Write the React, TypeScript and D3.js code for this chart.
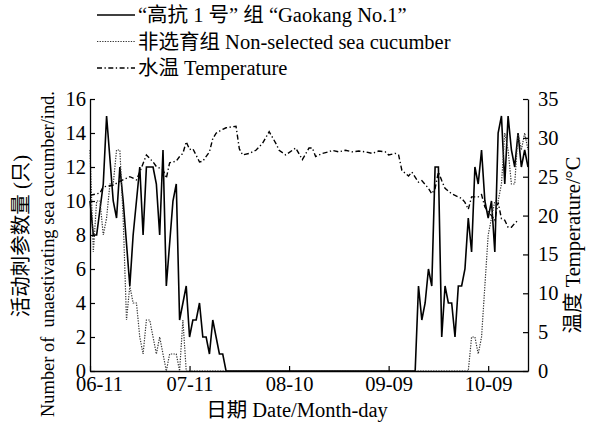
import { useRef, useEffect } from "react";
import * as d3 from "d3";

// day offsets from 06-11 and counts
const gaokangDays = [
  0, 1, 2, 4, 5, 7, 8, 9, 10, 12, 13, 15, 16, 17, 19, 20, 21, 22, 23, 25, 26, 27, 29, 30, 31, 32, 33, 34,
  35, 36, 37, 38, 39, 40, 41,
  98, 99, 100, 101, 102, 103, 104, 105, 106, 107, 108, 109, 110, 111, 112, 113, 114, 115, 116, 117, 118,
  119, 120, 121, 122, 123, 124, 125, 126, 127, 128, 129, 130, 131, 132,
];
const gaokangCounts = [
  10, 8, 8, 11, 15, 10, 9, 12, 10, 5, 8, 12, 8, 12, 12, 11, 8, 13, 5, 10, 11, 3, 5, 2, 3, 3, 4, 2,
  2, 1, 3, 2, 1, 1, 0,
  0, 5, 3, 4, 6, 5, 12, 12, 2, 5, 4, 4, 2, 5, 5, 6, 9, 7, 12, 11, 13,
  10, 9, 10, 7, 14, 15, 11, 15, 13, 12, 14, 12, 13, 12,
];

const controlDays = [
  0, 1, 2, 3, 4, 5, 6, 7, 8, 9, 10, 11, 12, 13, 14, 15, 16, 17, 18, 19, 20, 21, 22, 23, 24, 25, 26, 27, 28, 29,
  114, 115, 116, 117, 118, 119, 120, 121, 122, 123, 124, 125, 126, 127, 128, 129, 130, 131, 132,
];
const controlCounts = [
  13, 7, 10, 10, 8, 9, 11, 11, 13, 13, 9, 3, 5, 4, 4, 2, 1, 3, 3, 2, 1, 2, 1, 0, 1, 1, 1, 0, 3, 0,
  0, 2, 2, 1, 2, 5, 8, 9, 10, 10, 11, 14, 13, 11, 11, 14, 13, 14, 13,
];

const tempDays = [
  0, 3, 4, 7, 9, 12, 14, 15, 17, 19, 20, 22, 23, 24, 26, 27, 28, 29, 30, 31, 33, 34, 36, 37, 38, 40, 41,
  44, 45, 46, 48, 50, 52, 54, 56, 57, 59, 61, 62, 64, 66, 67, 68, 70, 72, 73, 75, 77, 79, 81, 83, 85, 87,
  89, 90, 92, 93, 94, 96, 97, 99, 100, 102, 103, 104, 105, 106, 107, 109, 110, 112, 113, 114, 115, 117,
  118, 119, 120, 121, 122, 123, 124, 125, 126, 127, 128, 129,
];
const tempValues = [
  22.6, 22.9, 23.7, 23.9, 24.4, 25, 24.6, 25.6, 27.8, 26.9, 26.3, 25.9, 24.8, 26.8, 27, 27.6, 28, 29.5,
  28.5, 28.6, 26.9, 27, 28.2, 29.9, 30.6, 31.1, 31.3,
  31.5, 28.6, 27.8, 28, 28.4, 29.3, 30.8, 29.3, 28.4, 27.8, 28.4, 28.7, 27.2, 28.7, 28.7, 27.6, 28, 28.2,
  28.4, 28.2, 28.4, 28.2, 28.3, 28.2, 28, 28.3,
  28.2, 27.8, 28, 27.8, 25.8, 25.1, 25.6, 24.3, 24.5, 23.5, 22.8, 23.5, 25.6, 24.5, 23.5, 22.8, 22.6,
  22.2, 21.7, 20.8, 22.4, 22.4,
  22.7, 21.1, 20.5, 20, 19.4, 21.7, 19.6, 19.4, 18.5, 18.5, 19, 19.4,
];

const xTickDays = [0, 30, 60, 90, 120];
const countTicks = [0, 2, 4, 6, 8, 10, 12, 14, 16];
const tempTicks = [0, 5, 10, 15, 20, 25, 30, 35];

const legendLabels = [
  "\u201C高抗 1 号\u201D 组 \u201CGaokang No.1\u201D",
  "非选育组 Non-selected sea cucumber",
  "水温 Temperature",
];

const W = 593;
const H = 426;
const PLOT = { left: 90, right: 528, top: 99, bottom: 371 };
const FONT = "'Liberation Serif', 'Times New Roman', 'Noto Sans CJK SC', serif";
const FS = 20.5;
const START = new Date(2012, 5, 11);
const toDate = (d: number) => d3.timeDay.offset(START, d);

const STYLES = [
  { dash: null as string | null, width: 1.6, color: "#000" },
  { dash: "1.3,1.3", width: 1.2, color: "#333" },
  { dash: "5,2.5,1.3,2.5", width: 1.4, color: "#000" },
];

export default function App() {
  const svgRef = useRef<SVGSVGElement>(null);

  useEffect(() => {
    const svg = d3.select(svgRef.current);
    svg.selectAll("*").remove();

    const x = d3
      .scaleTime()
      .domain([toDate(0), toDate(132)])
      .range([PLOT.left, PLOT.right]);
    const yL = d3.scaleLinear().domain([0, 16]).range([PLOT.bottom, PLOT.top]);
    const yR = d3.scaleLinear().domain([0, 35]).range([PLOT.bottom, PLOT.top]);

    const styleAxis = (axis: any) => {
      axis.select(".domain").attr("stroke", "#000").attr("stroke-width", 1.3);
      axis.selectAll(".tick line").attr("stroke", "#000").attr("stroke-width", 1.2);
      axis
        .selectAll(".tick text")
        .attr("fill", "#000")
        .attr("font-size", FS)
        .attr("font-family", FONT);
    };

    // series
    const series = [
      { days: gaokangDays, vals: gaokangCounts, y: yL },
      { days: controlDays, vals: controlCounts, y: yL },
      { days: tempDays, vals: tempValues, y: yR },
    ];
    series.forEach((s, i) => {
      const pts = s.days.map((d, j) => [d, s.vals[j]] as [number, number]);
      const line = d3
        .line<[number, number]>()
        .x((p) => x(toDate(p[0])))
        .y((p) => s.y(p[1]));
      const st = STYLES[i];
      svg
        .append("path")
        .datum(pts)
        .attr("fill", "none")
        .attr("stroke", st.color)
        .attr("stroke-width", st.width)
        .attr("stroke-linejoin", "miter")
        .attr("stroke-dasharray", st.dash)
        .attr("d", line);
    });

    // axes
    svg
      .append("g")
      .attr("transform", `translate(${PLOT.left},0)`)
      .call(d3.axisLeft(yL).tickValues(countTicks).tickSizeInner(-5).tickSizeOuter(0).tickPadding(4))
      .call(styleAxis);

    svg
      .append("g")
      .attr("transform", `translate(${PLOT.right},0)`)
      .call(d3.axisRight(yR).tickValues(tempTicks).tickSizeInner(-5).tickSizeOuter(0).tickPadding(10))
      .call(styleAxis);

    svg
      .append("g")
      .attr("transform", `translate(0,${PLOT.bottom})`)
      .call(
        d3
          .axisBottom(x)
          .tickValues(xTickDays.map(toDate))
          .tickFormat((d) => d3.timeFormat("%m-%d")(d as Date))
          .tickSizeInner(-5)
          .tickSizeOuter(0)
          .tickPadding(5)
      )
      .call(styleAxis)
      .call((axis: any) => {
        // first date label sits a little right of the corner, clear of the "0"
        axis.selectAll(".tick text").filter((_: any, i: number) => i === 0).attr("dx", 9);
      });

    // axis titles
    const title = (tx: number, ty: number, rot: number, txt: string, fs = FS) =>
      svg
        .append("text")
        .attr("transform", `translate(${tx},${ty}) rotate(${rot})`)
        .attr("text-anchor", "middle")
        .attr("dominant-baseline", "central")
        .attr("font-size", fs)
        .attr("font-family", FONT)
        .style("white-space", "pre")
        .attr("fill", "#000")
        .text(txt);

    title(21, 236, -90, "活动刺参数量 (只)");
    title(48, 254, -90, "Number of  unaestivating sea cucumber/ind.", 18.4);
    title(573, 245, -90, "温度 Temperature/°C");
    title(297, 410, 0, "日期 Date/Month-day");

    // legend
    const rowY = [15, 41.5, 68];
    legendLabels.forEach((lab, i) => {
      const st = STYLES[i];
      svg
        .append("line")
        .attr("x1", 97)
        .attr("x2", 135)
        .attr("y1", rowY[i])
        .attr("y2", rowY[i])
        .attr("stroke", st.color)
        .attr("stroke-width", st.width)
        .attr("stroke-dasharray", st.dash);
      svg
        .append("text")
        .attr("x", 138)
        .attr("y", rowY[i])
        .attr("dominant-baseline", "central")
        .attr("font-size", FS)
        .attr("font-family", FONT)
        .attr("fill", "#000")
        .text(lab);
    });
  }, []);

  return (
    <svg
      ref={svgRef}
      width={W}
      height={H}
      style={{ position: "absolute", left: 0, top: 0, background: "#fff", display: "block" }}
    />
  );
}
